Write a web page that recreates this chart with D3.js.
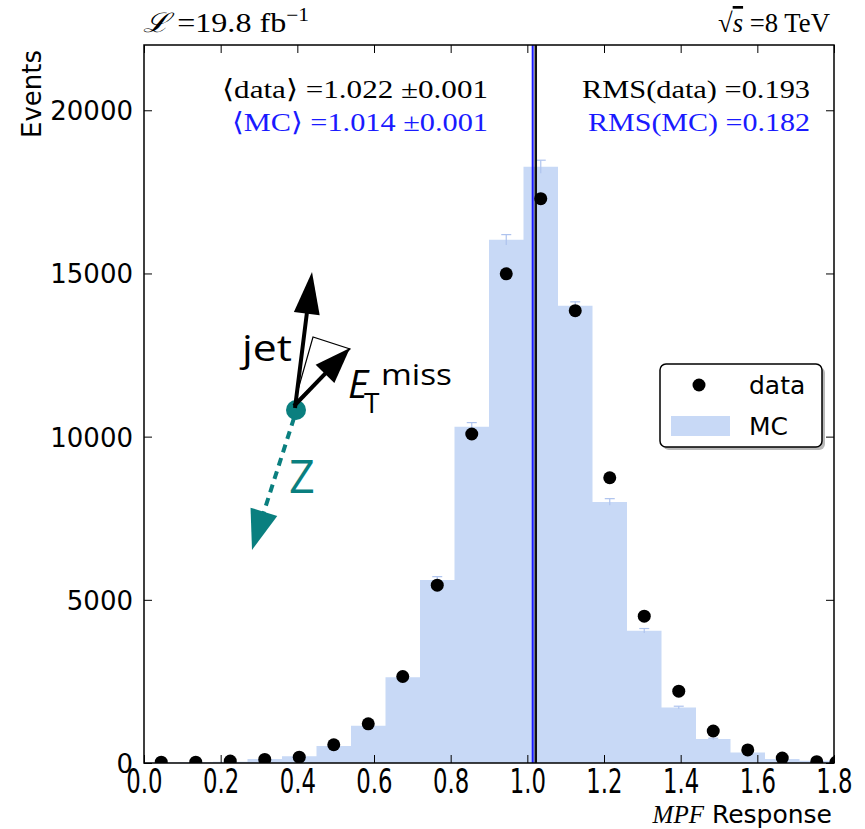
<!DOCTYPE html>
<html>
<head>
<meta charset="utf-8">
<script src="https://cdn.jsdelivr.net/npm/d3@7"></script>
<style>
  body { margin: 0; background: #fff; }
  text { fill: #000; }
</style>
</head>
<body>
<svg id="chart" width="865" height="829"></svg>
<script>
// histogram binning (MPF response), 0.09 wide
const binEdges = [0.00, 0.09, 0.18, 0.27, 0.36, 0.45, 0.54, 0.63, 0.72, 0.81, 0.90,
                  0.99, 1.08, 1.17, 1.26, 1.35, 1.44, 1.53, 1.62, 1.71, 1.80];
// MC (simulation) counts per bin and their stat. errors
const mcCounts = [15, 20, 35, 120, 210, 520, 1140, 2630, 5610, 10300, 16030,
                  18270, 14010, 8000, 4050, 1700, 735, 320, 120, 70];
const mcErrors = [5, 5, 8, 15, 20, 30, 45, 70, 100, 130, 160,
                  200, 120, 100, 70, 40, 25, 15, 10, 8];
// data points
const dataCenters = [0.045, 0.135, 0.225, 0.315, 0.405, 0.495, 0.585, 0.675, 0.765, 0.855,
                     0.945, 1.035, 1.125, 1.215, 1.305, 1.395, 1.485, 1.575, 1.665, 1.755, 1.805];
const dataCounts = [25, 25, 60, 110, 180, 560, 1200, 2650, 5450, 10080,
                    14990, 17290, 13860, 8740, 4500, 2200, 980, 400, 150, 40, 20];
const xTicks = [0.0, 0.2, 0.4, 0.6, 0.8, 1.0, 1.2, 1.4, 1.6, 1.8];
const yTicks = [0, 5000, 10000, 15000, 20000];
const meanData = 1.022, meanMC = 1.014;

const svg = d3.select('#chart');
const pL = 144, pR = 834, pT = 45, pB = 763;
const x = d3.scaleLinear().domain([0, 1.8]).range([pL, pR]);
const y = d3.scaleLinear().domain([0, 22000]).range([pB, pT]);

const mcFill = '#c8d9f6';
const blue = '#1a1aff';
const teal = '#0a7f7f';

svg.append('clipPath').attr('id', 'plotclip')
  .append('rect').attr('x', pL).attr('y', pT).attr('width', pR - pL).attr('height', pB - pT);

const plot = svg.append('g').attr('clip-path', 'url(#plotclip)');

// MC histogram as a step area
const steps = mcCounts.map((c, i) => [binEdges[i], c]);
steps.push([binEdges[binEdges.length - 1], mcCounts[mcCounts.length - 1]]);
plot.append('path')
  .datum(steps)
  .attr('fill', mcFill)
  .attr('d', d3.area().curve(d3.curveStepAfter).x(d => x(d[0])).y0(y(0)).y1(d => y(d[1])));

// MC error bars
const errG = plot.append('g').attr('stroke', '#aec3ee').attr('stroke-width', 1.2);
mcCounts.forEach((c, i) => {
  const cx = x((binEdges[i] + binEdges[i + 1]) / 2);
  errG.append('line').attr('x1', cx).attr('x2', cx).attr('y1', y(c - mcErrors[i])).attr('y2', y(c + mcErrors[i]));
  errG.append('line').attr('x1', cx - 5).attr('x2', cx + 5).attr('y1', y(c + mcErrors[i])).attr('y2', y(c + mcErrors[i]));
});

// mean lines
plot.append('line').attr('x1', x(meanData)).attr('x2', x(meanData)).attr('y1', pT).attr('y2', pB)
  .attr('stroke', '#111').attr('stroke-width', 2.5);
plot.append('line').attr('x1', x(meanMC)).attr('x2', x(meanMC)).attr('y1', pT).attr('y2', pB)
  .attr('stroke', blue).attr('stroke-width', 2);

// data points
plot.selectAll('circle.data')
  .data(dataCenters)
  .enter().append('circle')
  .attr('class', 'data')
  .attr('cx', d => x(d))
  .attr('cy', (d, i) => y(dataCounts[i]))
  .attr('r', 6.5)
  .attr('fill', '#000');

// axes, ticks pointing inwards on all four sides
const tickFont = 'DejaVu Sans, sans-serif';
const gx = svg.append('g').attr('transform', `translate(0,${pB})`)
  .call(d3.axisBottom(x).tickValues(xTicks).tickFormat(d3.format('.1f')).tickSize(-8));
gx.selectAll('text')
  .attr('y', 0).attr('dy', 0)
  .attr('transform', 'translate(0,30) scale(0.95,1.4)')
  .style('font-family', tickFont).style('font-size', '24px').attr('fill', '#000');
svg.append('g').attr('transform', `translate(0,${pT})`)
  .call(d3.axisTop(x).tickValues(xTicks).tickSize(-8).tickFormat(''));

const gy = svg.append('g').attr('transform', `translate(${pL},0)`)
  .call(d3.axisLeft(y).tickValues(yTicks).tickFormat(d3.format('d')).tickSize(-8).tickPadding(11));
gy.selectAll('text')
  .style('font-family', tickFont).style('font-size', '26px').attr('fill', '#000').attr('dy', '0.36em');
svg.append('g').attr('transform', `translate(${pR},0)`)
  .call(d3.axisRight(y).tickValues(yTicks).tickSize(-8).tickFormat(''));

svg.selectAll('.domain').remove();
svg.selectAll('.tick line').attr('stroke', '#000').attr('stroke-width', 1);

svg.append('rect')
  .attr('x', pL).attr('y', pT).attr('width', pR - pL).attr('height', pB - pT)
  .attr('fill', 'none').attr('stroke', '#000').attr('stroke-width', 1.5);

// axis titles
svg.append('text')
  .attr('transform', `translate(41,${pT + 5}) rotate(-90)`)
  .attr('text-anchor', 'end')
  .style('font-family', tickFont).style('font-size', '26px')
  .text('Events');

const xl = svg.append('text')
  .attr('x', 832).attr('y', 823).attr('text-anchor', 'end')
  .style('font-size', '25px');
xl.append('tspan').style('font-family', 'Liberation Serif, serif').style('font-style', 'italic').text('MPF');
xl.append('tspan').style('font-family', tickFont).text(' Response');

// header texts
const serif = 'Liberation Serif, DejaVu Serif, serif';
const lum = svg.append('text').attr('x', 143).attr('y', 32)
  .attr('textLength', 166).attr('lengthAdjust', 'spacingAndGlyphs')
  .style('font-family', serif).style('font-size', '27px');
lum.append('tspan').style('font-family', 'DejaVu Serif, serif').style('font-style', 'italic').text('ℒ');
lum.append('tspan').text(' =19.8 fb');
lum.append('tspan').attr('dy', -11).style('font-size', '18px').text('−1');

const rs = svg.append('text').attr('x', 718).attr('y', 32)
  .attr('textLength', 112).attr('lengthAdjust', 'spacingAndGlyphs')
  .style('font-family', serif).style('font-size', '27px');
rs.append('tspan').text('√');
rs.append('tspan').style('font-style', 'italic').style('text-decoration', 'overline').text('s');
rs.append('tspan').text(' =8 TeV');

// statistics
const stats = [
  { t: '⟨data⟩ =1.022 ±0.001', x: 488, y: 98, w: 266, c: '#000' },
  { t: '⟨MC⟩ =1.014 ±0.001', x: 488, y: 131, w: 256, c: blue },
  { t: 'RMS(data) =0.193', x: 810, y: 98, w: 228, c: '#000' },
  { t: 'RMS(MC) =0.182', x: 810, y: 131, w: 222, c: blue }
];
stats.forEach(s => {
  svg.append('text')
    .attr('x', s.x - s.w).attr('y', s.y)
    .attr('textLength', s.w).attr('lengthAdjust', 'spacingAndGlyphs')
    .style('font-family', serif).style('font-size', '26px')
    .style('fill', s.c)
    .text(s.t);
});

// legend
const lg = svg.append('g');
lg.append('rect').attr('x', 663).attr('y', 367).attr('width', 162).attr('height', 83).attr('rx', 6)
  .attr('fill', '#888').attr('opacity', 0.6);
lg.append('rect').attr('x', 660).attr('y', 364).attr('width', 162).attr('height', 83).attr('rx', 6)
  .attr('fill', '#fff').attr('stroke', '#000').attr('stroke-width', 1.5);
lg.append('circle').attr('cx', 699).attr('cy', 385).attr('r', 6.5).attr('fill', '#000');
lg.append('rect').attr('x', 671).attr('y', 416).attr('width', 59).attr('height', 20).attr('fill', mcFill);
lg.append('text').attr('x', 749).attr('y', 394).style('font-family', tickFont).style('font-size', '25px').text('data');
lg.append('text').attr('x', 749).attr('y', 435).style('font-family', tickFont).style('font-size', '25px').text('MC');

// sketch of the MPF method: Z, jet and missing ET
function arrowHead(g, x0, y0, x1, y1, len, half, color) {
  const dx = x1 - x0, dy = y1 - y0, l = Math.hypot(dx, dy);
  const ux = dx / l, uy = dy / l;
  const bx = x1 - ux * len, by = y1 - uy * len;
  g.append('polygon')
    .attr('points', [[x1, y1], [bx - uy * half, by + ux * half], [bx + uy * half, by - ux * half]].join(' '))
    .attr('fill', color);
  return [bx + ux * 2, by + uy * 2];
}
const sk = svg.append('g');
sk.append('polygon').attr('points', '294,404 313,337 350,349')
  .attr('fill', '#fff').attr('stroke', '#000').attr('stroke-width', 1.2);
sk.append('circle').attr('cx', 296).attr('cy', 410).attr('r', 10).attr('fill', teal);
// Z (dashed)
let b = arrowHead(sk, 295, 412, 252, 550, 40, 14, teal);
sk.append('line').attr('x1', 294).attr('y1', 418).attr('x2', b[0]).attr('y2', b[1])
  .attr('stroke', teal).attr('stroke-width', 4).attr('stroke-dasharray', '8,6');
// jet
b = arrowHead(sk, 295, 408, 312, 272, 42, 13, '#000');
sk.append('line').attr('x1', 295).attr('y1', 408).attr('x2', b[0]).attr('y2', b[1])
  .attr('stroke', '#000').attr('stroke-width', 4);
// MET
b = arrowHead(sk, 294, 406, 350, 348, 36, 13, '#000');
sk.append('line').attr('x1', 294).attr('y1', 406).attr('x2', b[0]).attr('y2', b[1])
  .attr('stroke', '#000').attr('stroke-width', 4);

const skFont = 'Open Sans, sans-serif';
sk.append('text').attr('x', 242).attr('y', 361).attr('textLength', 50).attr('lengthAdjust', 'spacingAndGlyphs')
  .style('font-family', skFont).style('font-size', '36px').text('jet');
sk.append('text').attr('x', 348).attr('y', 398)
  .style('font-family', skFont).style('font-style', 'italic').style('font-size', '39px').text('E');
sk.append('text').attr('x', 364).attr('y', 413)
  .style('font-family', skFont).style('font-size', '28px').text('T');
sk.append('text').attr('x', 381).attr('y', 385).attr('textLength', 71).attr('lengthAdjust', 'spacingAndGlyphs')
  .style('font-family', skFont).style('font-size', '29px').text('miss');
sk.append('text').attr('x', 289).attr('y', 493)
  .style('font-family', skFont).style('font-size', '45px').style('fill', teal).text('Z');
</script>
</body>
</html>
